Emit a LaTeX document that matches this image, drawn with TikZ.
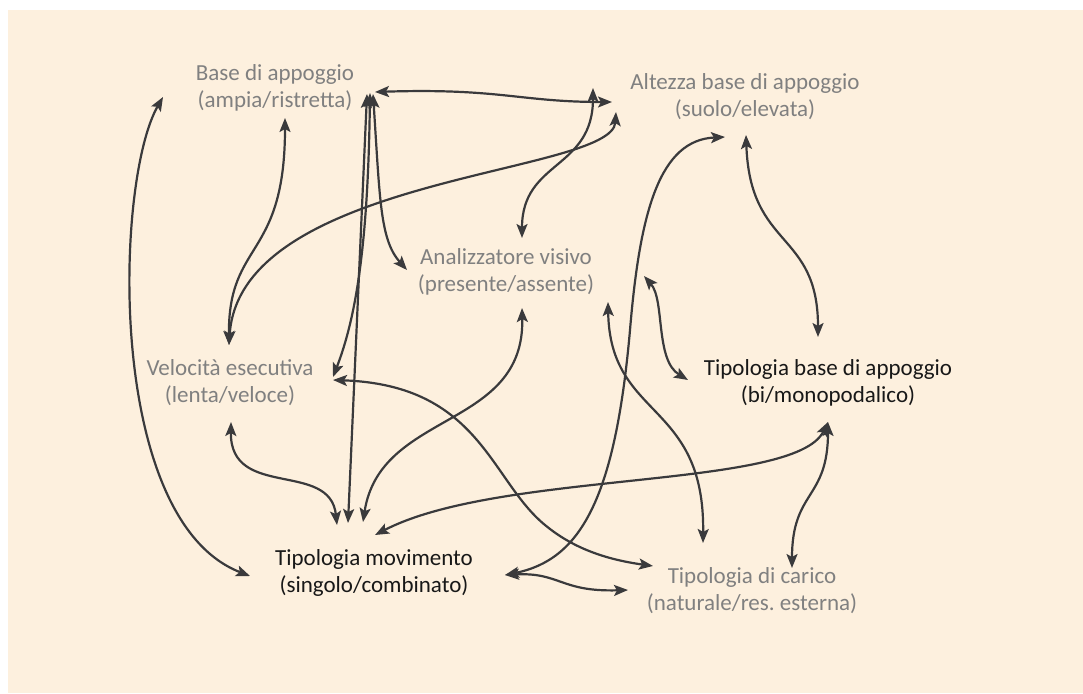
\documentclass[tikz,border=0pt]{standalone}
\usepackage{fontspec}
\setmainfont{Carlito}
\usetikzlibrary{arrows.meta}

\definecolor{sfondo}{RGB}{253,240,222}
\definecolor{linea}{RGB}{58,58,60}
\definecolor{grigio}{RGB}{128,128,128}
\definecolor{nero}{RGB}{24,24,24}

\begin{document}
\begin{tikzpicture}[x=1pt,y=-1pt,<->,>={Stealth[length=14pt,width=11pt,inset=3pt]},
  line width=2.2pt,color=linea,
  main node/.style={align=center,font=\fontsize{23}{27}\selectfont,text=grigio,inner sep=0pt},
  dark node/.style={main node,text=nero}]

  % sfondo
  \useasboundingbox (0,0) rectangle (1083,693);
  \fill[white] (0,0) rectangle (1083,693);
  \fill[sfondo] (8,10) rectangle (1083,693);

  \node[main node] (base) at (275,88) {Base di appoggio\\(ampia/ristretta)};
  \node[main node] (altezza) at (745,97) {Altezza base di appoggio\\(suolo/elevata)};
  \node[main node] (visivo) at (506,272) {Analizzatore visivo\\(presente/assente)};
  \node[main node] (velocita) at (230,383) {Velocità esecutiva\\(lenta/veloce)};
  \node[dark node] (tipobase) at (828,383) {Tipologia base di appoggio\\(bi/monopodalico)};
  \node[dark node] (movimento) at (374,573) {Tipologia movimento\\(singolo/combinato)};
  \node[main node] (carico) at (752,591) {Tipologia di carico\\(naturale/res.\ esterna)};

  % archi
  \draw ([shift={(-112,9)}]base.center) .. controls (115,180) and (105,520) .. ([shift={(-124,3)}]movimento.center);
  \draw ([shift={(10,30)}]base.center) .. controls (285,260) and (228,240) .. ([shift={(-1,-38)}]velocita.center);
  \draw ([shift={(-129,15)}]altezza.center) .. controls (612,175) and (240,175) .. ([shift={(-1,-38)}]velocita.center);
  \draw ([shift={(-152,-9)}]altezza.center) .. controls (593,170) and (522,160) .. ([shift={(16,-34)}]visivo.center);
  \draw ([shift={(100,4)}]base.center) .. controls (500,88) and (520,102) .. ([shift={(-133,5)}]altezza.center);
  \draw ([shift={(92,6)}]base.center) -- ([shift={(-26,-50)}]movimento.center);
  \draw ([shift={(95,5)}]base.center) .. controls (368,250) and (355,320) .. ([shift={(103,-6)}]velocita.center);
  \draw ([shift={(98,6)}]base.center) .. controls (380,200) and (380,240) .. ([shift={(-99,-2)}]visivo.center);
  \draw ([shift={(-20,40)}]altezza.center) .. controls (660,140) and (640,210) .. (630,330)
    .. controls (615,500) and (580,560) .. ([shift={(131,2)}]movimento.center);
  \draw ([shift={(1,38)}]altezza.center) .. controls (750,250) and (818,230) .. ([shift={(-10,-46)}]tipobase.center);
  \draw ([shift={(16,36)}]visivo.center) .. controls (525,430) and (380,410) .. ([shift={(-11,-51)}]movimento.center);
  \draw ([shift={(138,4)}]visivo.center) .. controls (665,300) and (655,360) .. ([shift={(-140,-3)}]tipobase.center);
  \draw ([shift={(102,30)}]visivo.center) .. controls (610,420) and (705,400) .. ([shift={(-49,-48)}]carico.center);
  \draw ([shift={(0,39)}]tipobase.center) .. controls (795,490) and (500,470) .. ([shift={(1,-38)}]movimento.center);
  \draw ([shift={(0,39)}]tipobase.center) .. controls (828,500) and (792,490) .. ([shift={(40,-23)}]carico.center);
  \draw ([shift={(103,-3)}]velocita.center) .. controls (480,385) and (490,480) .. (545,525)
    .. controls (575,550) and (610,560) .. ([shift={(-99,-25)}]carico.center);
  \draw ([shift={(1,39)}]velocita.center) .. controls (230,500) and (330,460) .. ([shift={(-37,-48)}]movimento.center);
  \draw ([shift={(131,2)}]movimento.center) .. controls (560,572) and (560,592) .. ([shift={(-124,-1)}]carico.center);
\end{tikzpicture}
\end{document}
